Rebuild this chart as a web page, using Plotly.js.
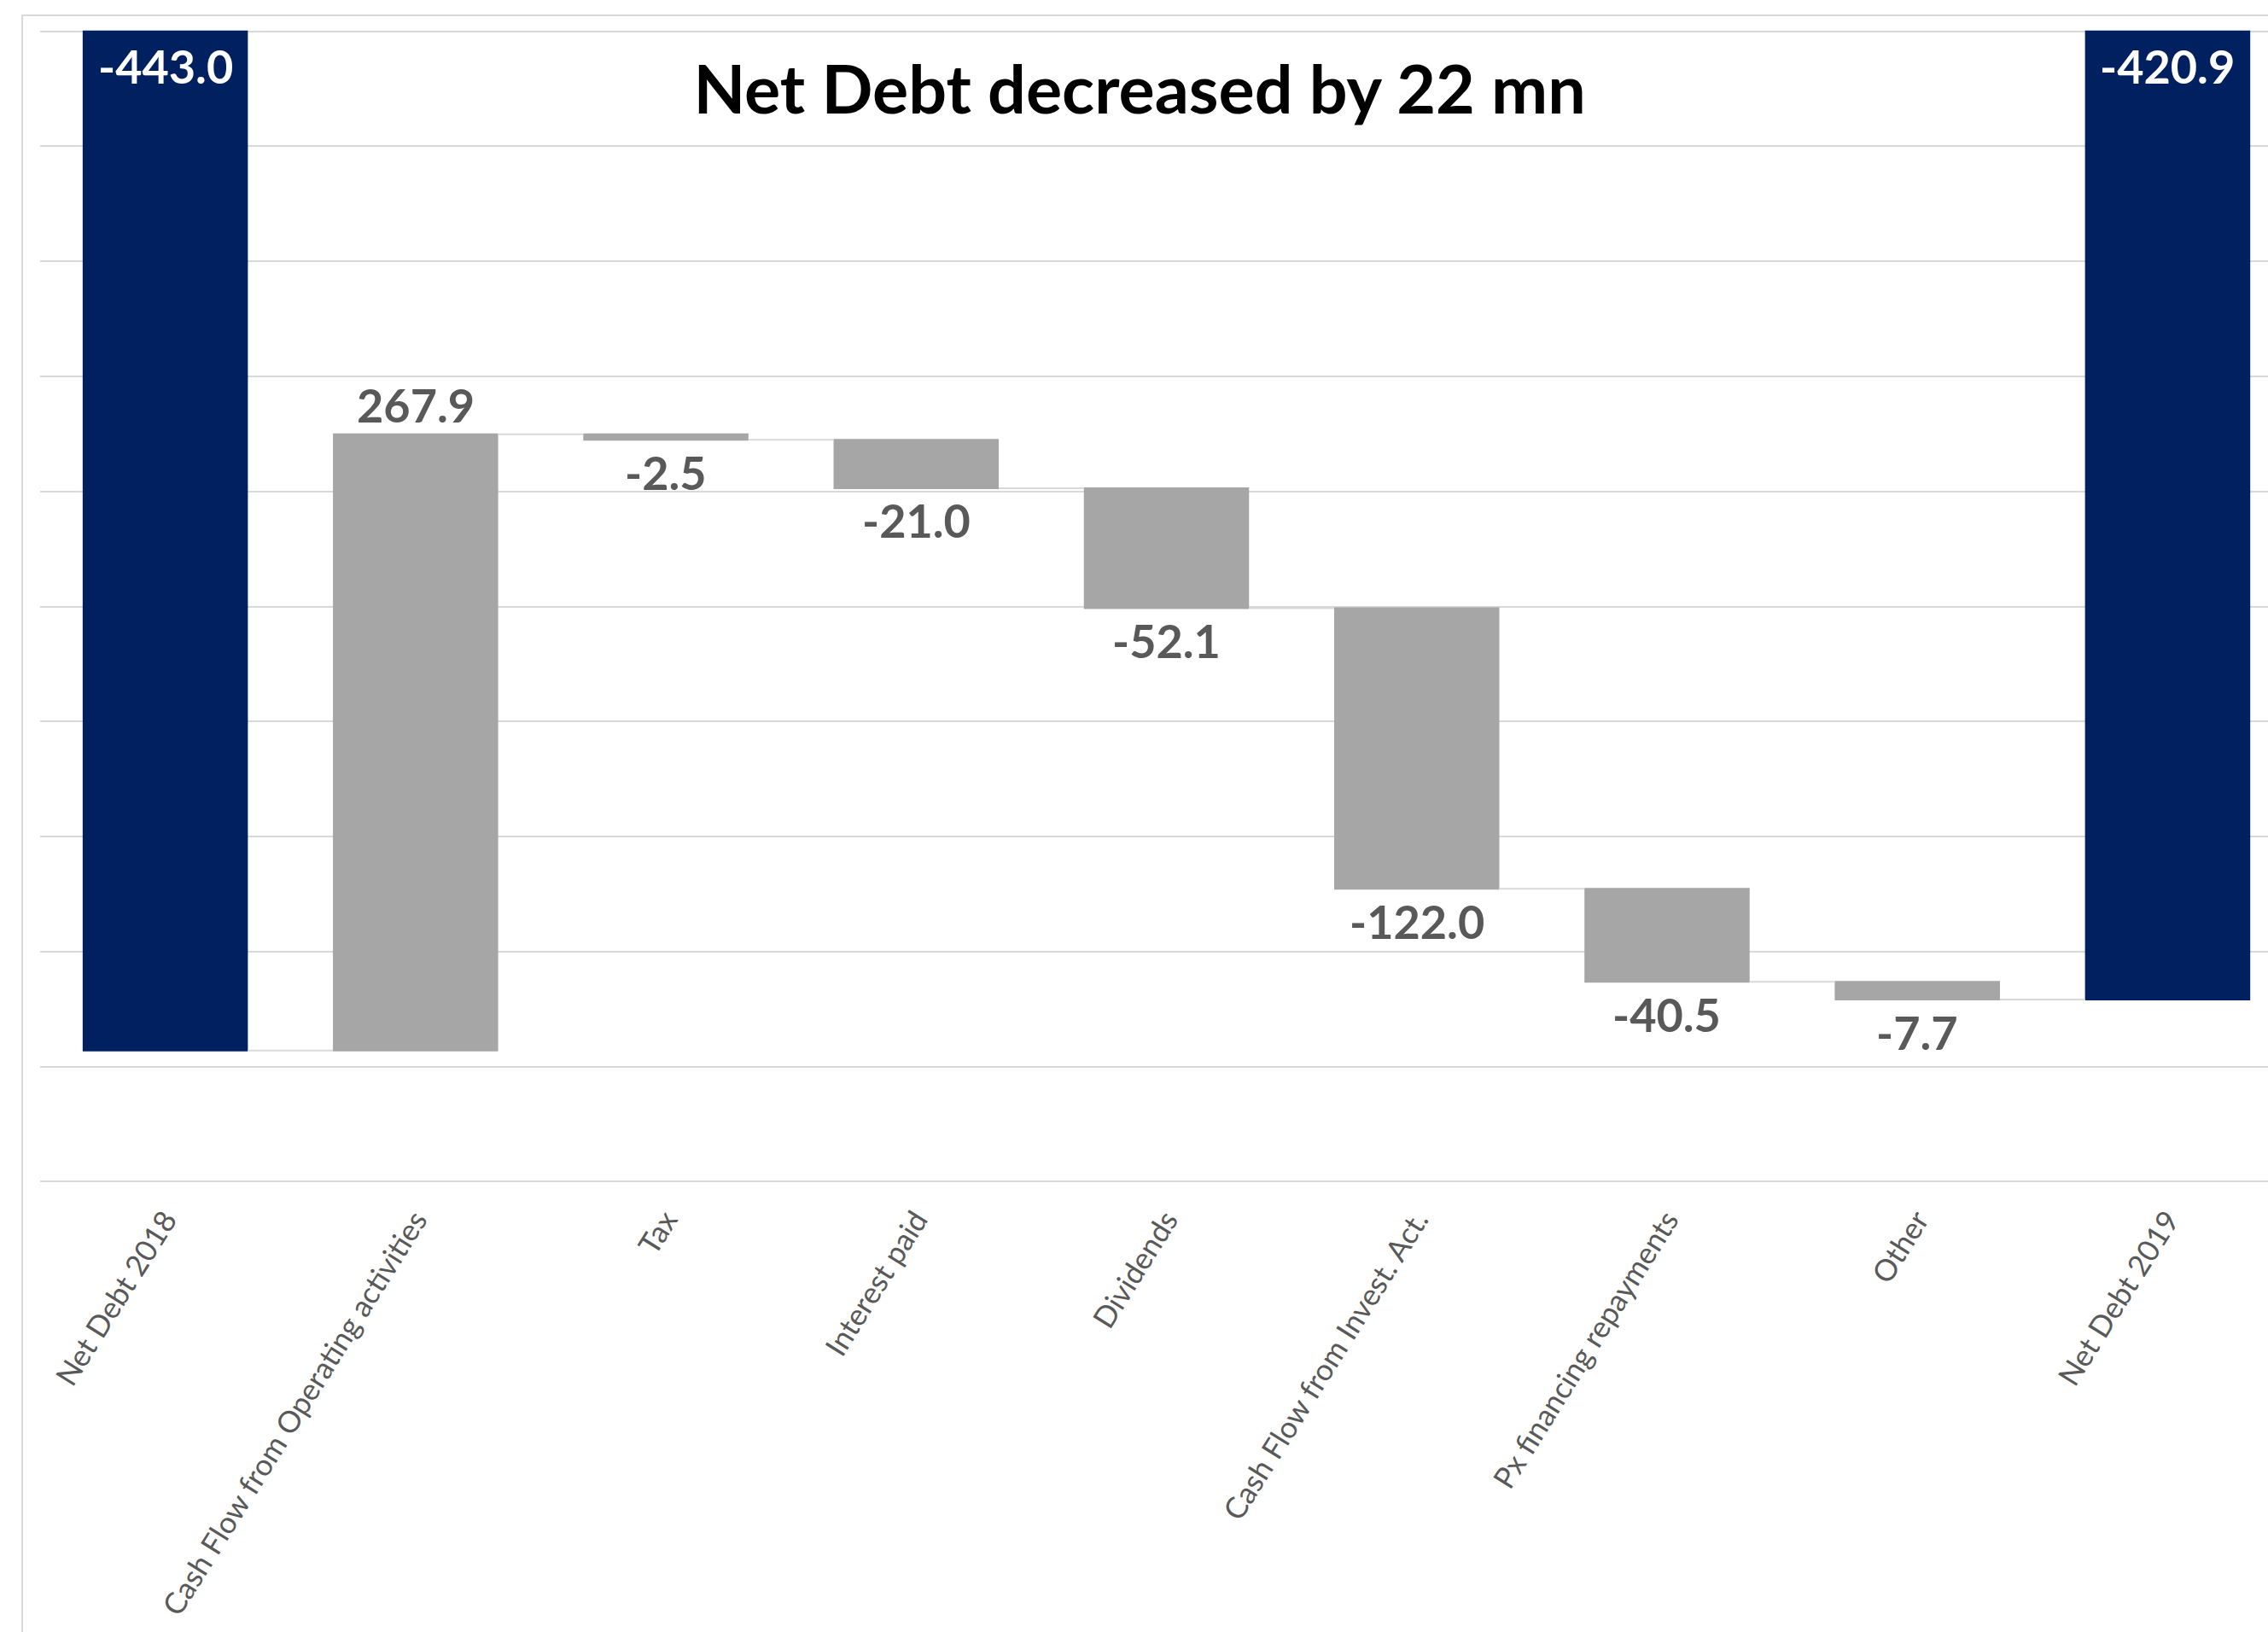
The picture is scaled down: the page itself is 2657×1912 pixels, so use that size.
<!DOCTYPE html>
<html>
<head>
<meta charset="utf-8">
<script src="https://cdn.plot.ly/plotly-3.0.1.min.js"></script>
<style>
html,body{margin:0;padding:0;background:#ffffff;}
#chart{width:2657px;height:1912px;}
</style>
</head>
<body>
<div id="chart"></div>
<script>
// ---- data ----
const categories = ['Net Debt 2018', 'Cash Flow from Operating activities', 'Tax', 'Interest paid', 'Dividends', 'Cash Flow from Invest. Act.', 'Px financing repayments', 'Other', 'Net Debt 2019'];
const values = [-443.0, 267.9, -2.5, -21.0, -52.1, -122.0, -40.5, -7.7, -420.9];
const measures = ['absolute', 'relative', 'relative', 'relative', 'relative', 'relative', 'relative', 'relative', 'total'];
const titleText = 'Net Debt decreased by 22 mn';

// ---- styles ----
const NAVY = '#002060';
const GREY = '#A6A6A6';
const LABEL = '#595959';
const GRID = '#D9D9D9';
const FONT = 'Lato, "Open Sans", sans-serif';

// ---- labels placed at bar ends (computed from the data) ----
const annotations = [];
let run = 0;
categories.forEach((c, i) => {
  const m = measures[i];
  const txt = values[i].toFixed(1);
  if (m === 'absolute' || m === 'total') {
    if (m === 'absolute') run = values[i];
    annotations.push({x: c, y: 0, text: txt, showarrow: false, xanchor: 'center', yanchor: 'middle',
      yshift: -41, font: {family: FONT, size: 54, color: '#ffffff', weight: 700}});
  } else {
    run += values[i];
    annotations.push({x: c, y: run, text: txt, showarrow: false, xanchor: 'center', yanchor: 'middle',
      yshift: values[i] >= 0 ? 34 : -38, font: {family: FONT, size: 54, color: LABEL, weight: 700}});
  }
});

const trace = {
  type: 'waterfall',
  x: categories,
  y: values,
  measure: measures,
  increasing: {marker: {color: GREY}},
  decreasing: {marker: {color: GREY}},
  totals: {marker: {color: NAVY}},
  connector: {mode: 'between', line: {color: GRID, width: 2}},
  textinfo: 'none',
  hoverinfo: 'skip'
};

const layout = {
  width: 2657,
  height: 1912,
  margin: {l: 47, r: 0, t: 34, b: 525, pad: 0},
  paper_bgcolor: '#ffffff',
  plot_bgcolor: '#ffffff',
  showlegend: false,
  waterfallgap: 0.34,
  title: {
    text: titleText,
    font: {family: FONT, size: 79, color: '#000000', weight: 700},
    x: 0.5025, xanchor: 'center', xref: 'container',
    y: 1 - 105 / 1912, yanchor: 'middle', yref: 'container'
  },
  xaxis: {
    type: 'category',
    range: [-0.5, 8.401],
    showgrid: false, zeroline: false, showline: false, ticks: '',
    tickangle: -58,
    ticklabelstandoff: 14,
    automargin: false,
    tickfont: {family: FONT, size: 35, color: LABEL}
  },
  yaxis: {
    range: [-501, 1],
    tick0: 0, dtick: 50,
    showgrid: true, gridcolor: GRID, gridwidth: 2,
    zeroline: false, showline: false, showticklabels: false, ticks: '',
    automargin: false
  },
  annotations: annotations,
  shapes: [{
    type: 'path', xref: 'paper', yref: 'paper',
    path: 'M -0.00805 -0.5 L -0.00805 1.0118 L 1.2 1.0118',
    line: {color: GRID, width: 2}
  }]
};

Plotly.newPlot('chart', [trace], layout, {staticPlot: true, displayModeBar: false});
</script>
</body>
</html>
